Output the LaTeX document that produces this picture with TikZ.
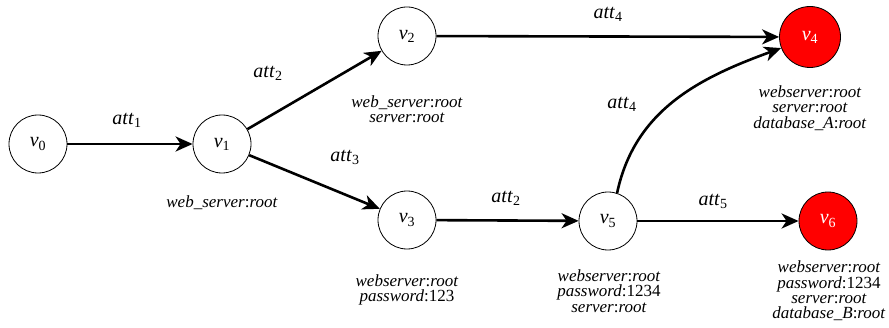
\documentclass[tikz,border=0pt]{standalone}
\usepackage{fontspec}
\setmainfont{Liberation Serif}[ItalicFont={Liberation Serif Italic}]
\usetikzlibrary{arrows.meta}
\newcommand\vv[1]{\textit{v}\textsubscript{#1}}
\newcommand\att[1]{\textit{att}\textsubscript{#1}}
\begin{document}
\begin{tikzpicture}[x=1pt,y=1pt,
  st/.style={circle,draw,line width=0.8pt,minimum size=58pt,inner sep=0pt,font=\fontsize{20}{20}\selectfont},
  goal/.style={st,fill=red,text=white},
  edge/.style={line width=2.6pt,-{Stealth[length=17pt,width=15pt,inset=5pt]}},
  lab/.style={font=\fontsize{20}{20}\selectfont,inner sep=0pt},
  info/.style={align=center,font=\fontsize{17}{15.4}\selectfont,inner sep=0pt}]
\useasboundingbox (0,0) rectangle (889,327);
\node[st] (v0) at (38,183) {\vv{0}};
\node[st] (v1) at (222,183) {\vv{1}};
\node[st] (v2) at (407,291) {\vv{2}};
\node[st] (v3) at (407,107) {\vv{3}};
\node[st] (v5) at (608,106) {\vv{5}};
\node[goal,minimum size=61pt] (v4) at (810,290) {\vv{4}};
\node[goal] (v6) at (828,106) {\vv{6}};

\draw[edge] (v0) -- (v1);
\draw[edge] (v1) -- (v2);
\draw[edge] (v1) -- (v3);
\draw[edge] (v2) -- (v4);
\draw[edge] (v3) -- (v5);
\draw[edge] (v5) -- (v6);
\draw[edge] (v5.72) to[out=78,in=200] (v4.201);

\node[lab] (a1) at (127,207) {\att{1}};
\node[lab] (a2) at (268,254) {\att{2}};
\node[lab] (a3) at (345,170) {\att{3}};
\node[lab] (a4) at (608,313) {\att{4}};
\node[lab] (a4b) at (622,223) {\att{4}};
\node[lab] (a2b) at (506,129) {\att{2}};
\node[lab] (a5) at (713,126) {\att{5}};

\node[info] (t1) at (222,124) {\textit{web\_server}:\textit{root}};
\node[info] (t2) at (407,218) {\textit{web\_server}:\textit{root}\\\textit{server}:\textit{root}};
\node[info] (t4) at (810,219) {\textit{webserver}:\textit{root}\\\textit{server}:\textit{root}\\\textit{database\_A}:\textit{root}};
\node[info] (t3) at (407,37) {\textit{webserver}:\textit{root}\\\textit{password}:123};
\node[info] (t5) at (609,36) {\textit{webserver}:\textit{root}\\\textit{password}:1234\\\textit{server}:\textit{root}};
\node[info] (t6) at (829,36) {\textit{webserver}:\textit{root}\\\textit{password}:1234\\\textit{server}:\textit{root}\\\textit{database\_B}:\textit{root}};
\end{tikzpicture}
\end{document}
